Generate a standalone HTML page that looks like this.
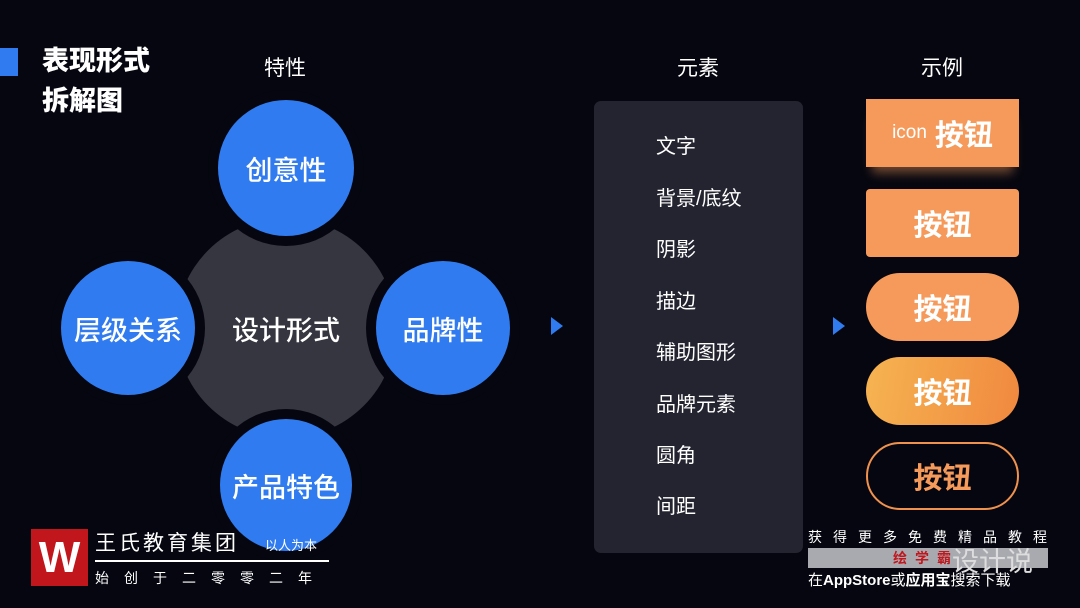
<!DOCTYPE html>
<html><head><meta charset="utf-8"><style>
*{margin:0;padding:0;box-sizing:border-box}
body{width:1080px;height:608px;background:#05060f;position:relative;overflow:hidden;font-family:"Liberation Sans","Noto Sans CJK SC",sans-serif;color:#fff}
.a{position:absolute;white-space:nowrap}
.c{position:absolute;border-radius:50%;display:flex;align-items:center;justify-content:center;color:#fff;font-size:27px;font-weight:500}
.blue{background:#2f7bef;box-shadow:0 0 0 10px #05060f}
.btn{position:absolute;left:866px;width:153px;height:68px;display:flex;align-items:center;justify-content:center;font-size:29px;font-weight:bold;color:#fff;background:#f59a5a}
.it{position:absolute;left:656px;font-size:20px;line-height:24px}
.tri{position:absolute;width:0;height:0;border-top:9px solid transparent;border-bottom:9px solid transparent;border-left:12px solid #2f7bef}
</style></head><body>
<div class="a" style="left:0;top:48px;width:18px;height:28px;background:#2f7bef"></div>
<div class="a" style="left:42px;top:44px;font-size:27px;font-weight:900;line-height:34px">表现形式</div>
<div class="a" style="left:42px;top:84px;font-size:27px;font-weight:900;line-height:34px">拆解图</div>
<div class="a" style="left:264px;top:52px;font-size:21px">特性</div>
<div class="a" style="left:677px;top:52px;font-size:21px">元素</div>
<div class="a" style="left:921px;top:52px;font-size:21px">示例</div>

<div class="c" style="left:176px;top:218px;width:220px;height:220px;background:#35363f">设计形式</div>
<div class="c blue" style="left:218px;top:100px;width:136px;height:136px">创意性</div>
<div class="c blue" style="left:61px;top:261px;width:134px;height:134px">层级关系</div>
<div class="c blue" style="left:376px;top:261px;width:134px;height:134px">品牌性</div>
<div class="c blue" style="left:220px;top:419px;width:132px;height:132px">产品特色</div>

<div class="tri" style="left:551px;top:317px"></div>
<div class="tri" style="left:833px;top:317px"></div>

<div class="a" style="left:594px;top:101px;width:209px;height:452px;background:#23242f;border-radius:7px"></div>
<div class="it" style="top:135px">文字</div>
<div class="it" style="top:187px">背景/底纹</div>
<div class="it" style="top:238px">阴影</div>
<div class="it" style="top:290px">描边</div>
<div class="it" style="top:341px">辅助图形</div>
<div class="it" style="top:393px">品牌元素</div>
<div class="it" style="top:444px">圆角</div>
<div class="it" style="top:495px">间距</div>

<div class="btn" style="top:99px;box-shadow:0 12px 10px -6px rgba(245,154,90,0.45)"><span style="font-size:19px;font-weight:normal;margin-right:8px">icon</span>按钮</div>
<div class="btn" style="top:189px;border-radius:4px">按钮</div>
<div class="btn" style="top:273px;border-radius:34px">按钮</div>
<div class="btn" style="top:357px;border-radius:34px;background:linear-gradient(100deg,#f6b451,#f0883f)">按钮</div>
<div class="btn" style="top:442px;border-radius:34px;background:none;border:2px solid #f0924e;color:#f59a5a">按钮</div>

<div class="a" style="left:31px;top:529px;width:57px;height:57px;background:#c0161c;color:#fff;font-size:44px;font-weight:bold;text-align:center;line-height:57px">W</div>
<div class="a" style="left:95px;top:527px;font-size:21px;letter-spacing:3px">王氏教育集团</div>
<div class="a" style="left:265px;top:535px;font-size:13px">以人为本</div>
<div class="a" style="left:95px;top:560px;width:234px;height:2px;background:#fff"></div>
<div class="a" style="left:95px;top:568px;font-size:14px;letter-spacing:15px">始创于二零零二年</div>

<div class="a" style="left:808px;top:527px;font-size:14px;letter-spacing:11px">获得更多免费精品教程</div>
<div class="a" style="left:808px;top:548px;width:240px;height:20px;background:#a9aab0"></div>
<div class="a" style="left:893px;top:548px;font-size:14px;font-weight:bold;color:#c0161c;letter-spacing:8px">绘学霸</div>
<div class="a" style="left:952px;top:540px;font-size:27px;color:#ddd">设计说</div>
<div class="a" style="left:808px;top:569px;font-size:15px">在<b>AppStore</b>或<b>应用宝</b>搜索下载</div>
</body></html>
